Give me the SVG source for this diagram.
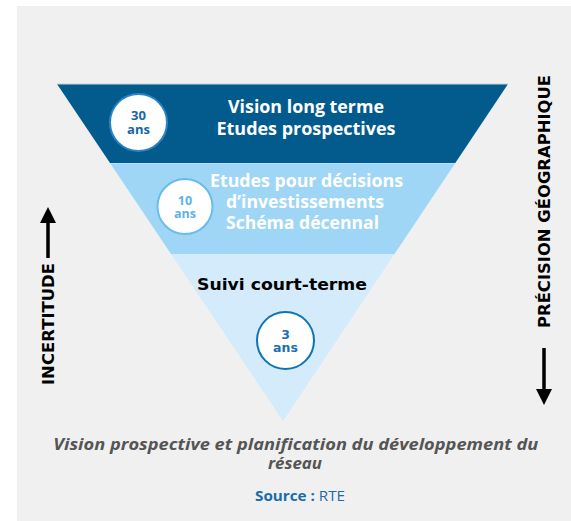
<svg xmlns="http://www.w3.org/2000/svg" width="571" height="521" viewBox="0 0 571 521">
<defs>
<style>
.main{font-family:"Open Sans","Noto Sans",sans-serif;font-weight:bold;font-size:17.5px;fill:#fff;text-anchor:middle}
.ctxt{font-family:"Open Sans","Noto Sans",sans-serif;font-weight:bold;font-size:13px;text-anchor:middle}
.vtxt{font-family:"DejaVu Sans",sans-serif;font-weight:bold;font-size:16.3px;fill:#000;text-anchor:middle}
.cap{font-family:"Open Sans","Noto Sans",sans-serif;font-weight:bold;font-style:italic;font-size:16px;fill:#555;text-anchor:middle}
.arrow{stroke:#000;stroke-width:3.5;fill:none}
</style>
</defs>
<rect x="0" y="0" width="571" height="521" fill="#fff"/>
<rect x="17" y="6" width="554" height="515" fill="#f0f0f0"/>

<g id="band1">
<polygon points="57,84 508,84 455.3,163 110,163" fill="#035b8d"/>
<line x1="57" y1="84" x2="508" y2="84" stroke="#c9d3da" stroke-width="1"/>
<text class="main" x="306" y="113" textLength="156" lengthAdjust="spacingAndGlyphs">Vision long terme</text>
<text class="main" x="306" y="135" textLength="179" lengthAdjust="spacingAndGlyphs">Etudes prospectives</text>
</g>
<g id="circle30">
<circle cx="138.5" cy="122.5" r="28.5" fill="#fff" stroke="#2a85c6" stroke-width="2"/>
<text class="ctxt" x="138.5" y="119.5" fill="#1666a8">30</text>
<text class="ctxt" x="138.5" y="134" fill="#1666a8">ans</text>
</g>

<g id="band2">
<polygon points="110,163 455.3,163 394.5,254 171,254" fill="#9fd6f6"/>
<line x1="110" y1="163.5" x2="455.3" y2="163.5" stroke="#b9e2fa" stroke-width="1"/>
<text class="main" x="306.5" y="187" textLength="193" lengthAdjust="spacingAndGlyphs">Etudes pour décisions</text>
<text class="main" x="305" y="208" textLength="158" lengthAdjust="spacingAndGlyphs">d’investissements</text>
<text class="main" x="302.5" y="229" textLength="153" lengthAdjust="spacingAndGlyphs">Schéma décennal</text>
</g>
<g id="circle10">
<circle cx="185" cy="206.5" r="27.5" fill="#fff" stroke="#68bdeb" stroke-width="2"/>
<text class="ctxt" x="185" y="204.5" fill="#5db3e4" style="font-size:12.5px">10</text>
<text class="ctxt" x="185" y="218" fill="#5db3e4" style="font-size:12.5px">ans</text>
</g>

<g id="band3">
<polygon points="171,254 394.5,254 283,421" fill="#d3ebfa"/>
<text x="282" y="289.5" style="font-family:'DejaVu Sans',sans-serif;font-weight:bold;font-size:16px;fill:#000;text-anchor:middle" textLength="170" lengthAdjust="spacingAndGlyphs">Suivi court-terme</text>
</g>
<g id="circle3">
<circle cx="285.5" cy="340.5" r="28.5" fill="#fff" stroke="#0c73b6" stroke-width="2"/>
<text x="285.5" y="338.5" style="font-family:'DejaVu Sans',sans-serif;font-weight:bold;font-size:12.5px;fill:#1d6fb0;text-anchor:middle">3</text>
<text x="285.5" y="352" style="font-family:'DejaVu Sans',sans-serif;font-weight:bold;font-size:12.5px;fill:#1d6fb0;text-anchor:middle">ans</text>
</g>

<g id="connectors">
<line class="arrow" x1="48" y1="258" x2="48" y2="220"/>
<polygon points="48,207 56,223 40,223" fill="#000"/>
<line class="arrow" x1="544" y1="348" x2="544" y2="390"/>
<polygon points="544,405 536,389 552,389" fill="#000"/>
</g>

<g id="incertitude">
<text class="vtxt" transform="translate(54,324) rotate(-90)" textLength="122" lengthAdjust="spacingAndGlyphs">INCERTITUDE</text>
</g>
<g id="precision">
<text class="vtxt" transform="translate(550,201.5) rotate(-90)" textLength="253" lengthAdjust="spacingAndGlyphs">PRÉCISION GÉOGRAPHIQUE</text>
</g>

<g id="caption">
<text class="cap" x="295.8" y="449.5" textLength="485" lengthAdjust="spacingAndGlyphs">Vision prospective et planification du développement du</text>
<text class="cap" x="295" y="468.5" textLength="54" lengthAdjust="spacingAndGlyphs">réseau</text>
<text x="300" y="501" style="font-family:'Open Sans','Noto Sans',sans-serif;font-size:15px;fill:#1b6aab;text-anchor:middle" textLength="90" lengthAdjust="spacingAndGlyphs"><tspan font-weight="bold">Source :</tspan> RTE</text>
</g>
</svg>
